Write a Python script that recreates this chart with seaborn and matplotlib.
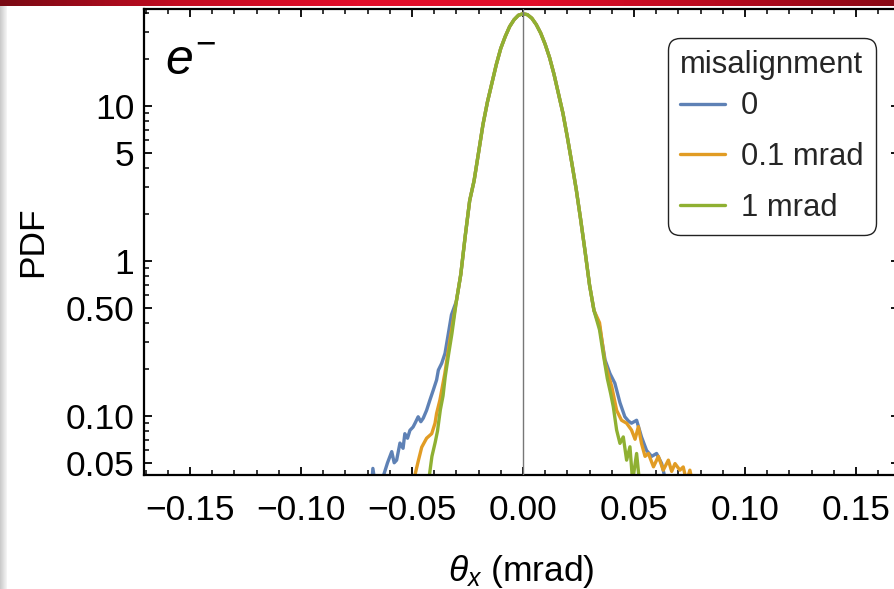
import numpy as np
import pandas as pd
import matplotlib
matplotlib.use("Agg")
import matplotlib.pyplot as plt
import seaborn as sns
from matplotlib.ticker import FixedLocator, FuncFormatter, MultipleLocator
from matplotlib.colors import LinearSegmentedColormap

# ---------------- data ----------------
series_names = ["0", "0.1 mrad", "1 mrad"]
series_colors = ["#5E81B5", "#E19C24", "#8FB032"]

# shared central part (all three curves coincide here)
core_theta = [-0.030, -0.028, -0.026, -0.024, -0.022, -0.020, -0.018, -0.016,
              -0.014, -0.012, -0.010, -0.008, -0.006, -0.004, -0.002, 0.000,
              0.002, 0.004, 0.006, 0.008, 0.010, 0.012, 0.014, 0.016, 0.018,
              0.020, 0.022, 0.024, 0.026, 0.028, 0.030, 0.032]
core_pdf = [0.55, 0.82, 1.45, 2.45, 3.3, 5.0, 7.6, 10.6,
            14.0, 18.5, 23.5, 28.0, 32.5, 36.0, 38.5, 39.3,
            38.8, 36.8, 33.5, 29.5, 25.0, 20.5, 16.0, 12.0, 9.0,
            6.3, 4.3, 2.9, 1.85, 1.15, 0.70, 0.48]

# misalignment 0 (blue) tails
blue_left_theta = [-0.0685, -0.0676, -0.0665, -0.0650, -0.0629, -0.0610, -0.0591,
                   -0.0580, -0.0569, -0.0554, -0.0540, -0.0532, -0.0520, -0.0509,
                   -0.0495, -0.0486, -0.0472, -0.0460, -0.0449, -0.0434, -0.0419,
                   -0.0404, -0.0389, -0.0381, -0.0366, -0.0351, -0.0336, -0.0322]
blue_left_pdf = [0.030, 0.046, 0.036, 0.030, 0.041, 0.050, 0.059,
                 0.050, 0.052, 0.067, 0.062, 0.077, 0.072, 0.081,
                 0.085, 0.090, 0.099, 0.092, 0.097, 0.109, 0.127,
                 0.147, 0.171, 0.198, 0.219, 0.254, 0.341, 0.45]
blue_right_theta = [0.0345, 0.0370, 0.0392, 0.0414, 0.0437, 0.0459, 0.0475, 0.0489,
                    0.0512, 0.0534, 0.0557, 0.0580, 0.0602, 0.0625, 0.0647]
blue_right_pdf = [0.38, 0.23, 0.188, 0.163, 0.122, 0.099, 0.093, 0.090,
                  0.094, 0.0734, 0.060, 0.055, 0.0574, 0.0494, 0.036]

# misalignment 0.1 mrad (orange) tails
orange_left_theta = [-0.0490, -0.0486, -0.0472, -0.0456, -0.0434, -0.0411, -0.0396,
                     -0.0389, -0.0374, -0.0352, -0.0329]
orange_left_pdf = [0.034, 0.042, 0.051, 0.063, 0.072, 0.077, 0.090,
                   0.104, 0.127, 0.188, 0.31]
orange_right_theta = [0.0345, 0.0370, 0.0400, 0.0422, 0.0444, 0.0467, 0.0489, 0.0505,
                      0.0520, 0.0534, 0.0550, 0.0565, 0.0588, 0.0610, 0.0632, 0.0655,
                      0.0670, 0.0685, 0.0707, 0.0722, 0.0737, 0.0752, 0.0768]
orange_right_pdf = [0.40, 0.219, 0.155, 0.109, 0.094, 0.090, 0.0813, 0.0709,
                    0.0856, 0.0667, 0.055, 0.0574, 0.0471, 0.055, 0.0448, 0.052,
                    0.044, 0.0494, 0.0448, 0.047, 0.038, 0.0448, 0.035]

# misalignment 1 mrad (green) tails
green_left_theta = [-0.0425, -0.0410, -0.0395, -0.0385, -0.0372, -0.0360, -0.0350,
                    -0.0335, -0.0320]
green_left_pdf = [0.038, 0.055, 0.068, 0.080, 0.110, 0.135, 0.180, 0.25, 0.34]
green_right_theta = [0.0345, 0.0362, 0.0380, 0.0395, 0.0407, 0.0422, 0.0437, 0.0452,
                     0.0467, 0.0482, 0.0494, 0.0512, 0.0527]
green_right_pdf = [0.36, 0.25, 0.175, 0.14, 0.115, 0.0813, 0.0667, 0.0734,
                   0.052, 0.0634, 0.038, 0.0574, 0.035]

x_ticks = [-0.15, -0.10, -0.05, 0.00, 0.05, 0.10, 0.15]
y_ticks = [0.05, 0.10, 0.50, 1, 5, 10]
y_tick_labels = ["0.05", "0.10", "0.50", "1", "5", "10"]
y_minor = [0.06, 0.07, 0.08, 0.09, 0.2, 0.3, 0.4, 0.6, 0.7, 0.8, 0.9,
           2, 3, 4, 6, 7, 8, 9, 20, 30, 40]

# ---------------- build table ----------------
tails = {
    "0": (blue_left_theta, blue_left_pdf, blue_right_theta, blue_right_pdf),
    "0.1 mrad": (orange_left_theta, orange_left_pdf, orange_right_theta, orange_right_pdf),
    "1 mrad": (green_left_theta, green_left_pdf, green_right_theta, green_right_pdf),
}
frames = []
for name in series_names:
    lt, lp, rt, rp = tails[name]
    th = list(lt) + list(core_theta) + list(rt)
    pd_ = list(lp) + list(core_pdf) + list(rp)
    frames.append(pd.DataFrame({"theta": th, "pdf": pd_, "misalignment": name}))
df = pd.concat(frames, ignore_index=True)

# ---------------- style ----------------
sns.set_theme(style="ticks")
plt.rcParams["font.family"] = ["Liberation Sans", "DejaVu Sans"]
plt.rcParams["mathtext.fontset"] = "custom"
plt.rcParams["mathtext.rm"] = "Liberation Sans"
plt.rcParams["mathtext.it"] = "Liberation Sans:italic"
plt.rcParams["axes.unicode_minus"] = True

W, H = 895, 589
fig = plt.figure(figsize=(W / 100, H / 100), dpi=100)
fig.patch.set_facecolor("white")

ax_l, ax_r, ax_t, ax_b = 144, 899, 9, 475
ax = fig.add_axes([ax_l / W, (H - ax_b) / H, (ax_r - ax_l) / W, (ax_b - ax_t) / H])

sns.lineplot(data=df, x="theta", y="pdf", hue="misalignment", hue_order=series_names,
             palette=series_colors, estimator=None, sort=False, linewidth=2.4,
             ax=ax, zorder=2)

ax.axvline(0, color="#777777", lw=1.0, zorder=3)

ax.set_yscale("log")
ax.set_xlim(-0.1707, 0.1694)
ax.set_ylim(0.0417, 42.2)

ax.xaxis.set_major_locator(FixedLocator(x_ticks))
ax.xaxis.set_minor_locator(MultipleLocator(0.01))


def xfmt(v, pos):
    s = f"{v:.2f}"
    if s == "-0.00":
        s = "0.00"
    return s.replace("-", "\u2212")


ax.xaxis.set_major_formatter(FuncFormatter(xfmt))
ax.yaxis.set_major_locator(FixedLocator(y_ticks))
ax.yaxis.set_major_formatter(FuncFormatter(
    lambda v, p: y_tick_labels[p] if p is not None and p < len(y_tick_labels) else ""))
ax.yaxis.set_minor_locator(FixedLocator(y_minor))
ax.yaxis.set_minor_formatter(FuncFormatter(lambda v, p: ""))

ax.tick_params(which="both", direction="in", top=True, right=True, color="black")
ax.tick_params(which="major", length=6, width=1.3, labelsize=25.5, colors="black")
ax.tick_params(which="minor", length=3.5, width=1.1)
ax.tick_params(axis="x", which="major", pad=13.5)
ax.tick_params(axis="y", which="major", pad=7)
for sp in ax.spines.values():
    sp.set_visible(True)
    sp.set_linewidth(1.6)
    sp.set_color("black")

ax.set_xlabel(r"$\theta_x$ (mrad)", fontsize=25.5, labelpad=19, color="black")
ax.set_ylabel("PDF", fontsize=25.5, labelpad=12, color="black")
ax.grid(False)

ax.text((165 - ax_l) / (ax_r - ax_l), (ax_b - 75) / (ax_b - ax_t), r"$e^{-}$",
        transform=ax.transAxes, fontsize=36, ha="left", va="baseline", color="black")

handles, labels = ax.get_legend_handles_labels()
leg = ax.legend(handles, labels, title="misalignment", loc="upper left",
                bbox_to_anchor=((668 - ax_l) / (ax_r - ax_l), (ax_b - 38) / (ax_b - ax_t)),
                borderaxespad=0, fontsize=22.3, title_fontsize=22.3, frameon=True,
                fancybox=True, edgecolor="#222222", framealpha=1, alignment="left",
                handlelength=1.45, handletextpad=0.5, labelspacing=0.67,
                borderpad=0.4)
leg._legend_box.sep = 8
leg.get_frame().set_linewidth(1.0)
leg.get_frame().set_boxstyle("round", pad=0, rounding_size=0.4)
for lh in leg.get_lines():
    lh.set_linewidth(2.4)

# ---------------- screenshot decorations ----------------
band = fig.add_axes([0, (H - 6) / H, 1, 6 / H])
band_cmap = LinearSegmentedColormap.from_list(
    "band", ["#7a0a14", "#c40c22", "#e20d2a", "#e00d29", "#b80b1f", "#8a0a16"])
band.imshow(np.linspace(0, 1, 400)[None, :], aspect="auto", cmap=band_cmap,
            extent=[0, 1, 0, 1])
band.set_axis_off()

strip = fig.add_axes([0, 0, 7 / W, (H - 6) / H])
strip_cmap = LinearSegmentedColormap.from_list("strip", ["#c9c9c9", "#f6f6f6"])
strip.imshow(np.linspace(0, 1, 50)[None, :], aspect="auto", cmap=strip_cmap,
             extent=[0, 1, 0, 1])
strip.set_axis_off()

fig.savefig("out.png", dpi=100, facecolor="white")
